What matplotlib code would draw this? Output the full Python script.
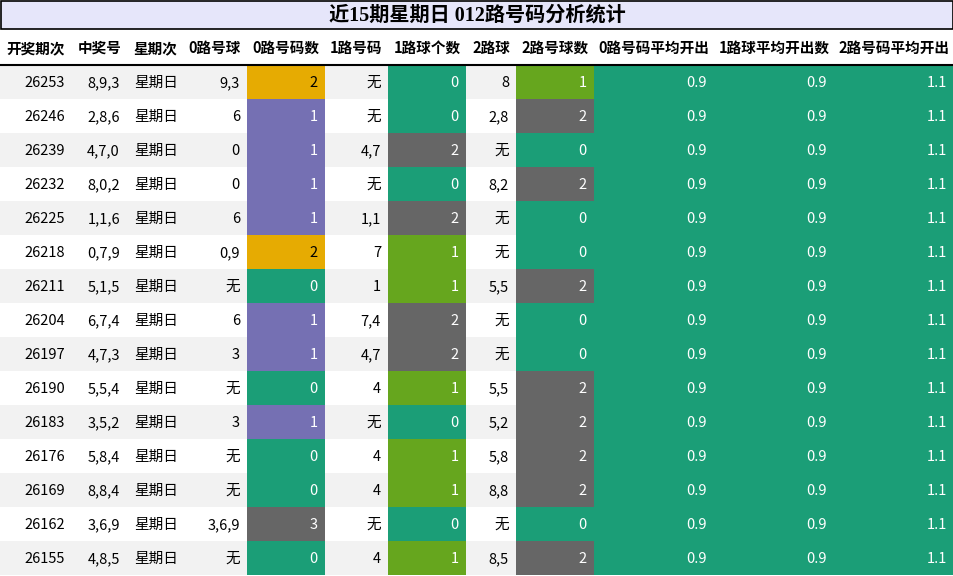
import matplotlib
matplotlib.use("Agg")
import matplotlib.pyplot as plt
from matplotlib.patches import Rectangle

plt.rcParams['font.family'] = ['Noto Sans CJK SC', 'DejaVu Sans']

title = "近15期星期日 012路号码分析统计"
headers = ["开奖期次", "中奖号", "星期次", "0路号球", "0路号码数", "1路号码", "1路球个数",
           "2路球", "2路号球数", "0路号码平均开出", "1路球平均开出数", "2路号码平均开出"]

issues = ["26253", "26246", "26239", "26232", "26225", "26218", "26211", "26204",
          "26197", "26190", "26183", "26176", "26169", "26162", "26155"]
numbers = ["8,9,3", "2,8,6", "4,7,0", "8,0,2", "1,1,6", "0,7,9", "5,1,5", "6,7,4",
           "4,7,3", "5,5,4", "3,5,2", "5,8,4", "8,8,4", "3,6,9", "4,8,5"]
weekday = ["星期日"] * 15
road0 = ["9,3", "6", "0", "0", "6", "0,9", "无", "6", "3", "无", "3", "无", "无", "3,6,9", "无"]
cnt0 = [2, 1, 1, 1, 1, 2, 0, 1, 1, 0, 1, 0, 0, 3, 0]
road1 = ["无", "无", "4,7", "无", "1,1", "7", "1", "7,4", "4,7", "4", "无", "4", "4", "无", "4"]
cnt1 = [0, 0, 2, 0, 2, 1, 1, 2, 2, 1, 0, 1, 1, 0, 1]
road2 = ["8", "2,8", "无", "8,2", "无", "无", "5,5", "无", "无", "5,5", "5,2", "5,8", "8,8", "无", "8,5"]
cnt2 = [1, 2, 0, 2, 0, 0, 2, 0, 0, 2, 2, 2, 2, 0, 2]
avg0, avg1, avg2 = "0.9", "0.9", "1.1"

GREEN, LGREEN, PURPLE, ORANGE, GRAY = "#1b9e77", "#66a61e", "#7570b3", "#e6ab02", "#666666"
cmap0 = {0: GREEN, 1: PURPLE, 2: ORANGE, 3: GRAY}
cmap12 = {0: GREEN, 1: LGREEN, 2: GRAY}

col_edges = [0, 72, 127, 183, 247, 325, 388, 466, 516, 594, 714, 834, 954]
title_h, head_bot, row_h = 29, 65, 34

fig = plt.figure(figsize=(9.54, 5.76), dpi=100)
ax = fig.add_axes([0, 0, 1, 1])
ax.set_xlim(0, 954)
ax.set_ylim(576, 0)
ax.axis("off")

# title bar
ax.add_patch(Rectangle((0.5, 0.5), 953, title_h - 1, facecolor="#e6e6fa", edgecolor="black", lw=1.2))
ax.text(477, title_h / 2 + 1, title, ha="center", va="center", fontsize=14.5, fontweight="bold",
        family=["Liberation Serif", "Noto Sans CJK SC"])

# header
for i, h in enumerate(headers):
    cx = (col_edges[i] + col_edges[i + 1]) / 2
    ax.text(cx, (title_h + head_bot) / 2 + 1, h, ha="center", va="center", fontsize=10.5, fontweight="bold")
ax.plot([0, 954], [head_bot, head_bot], color="black", lw=1.5)

for r in range(15):
    y0 = head_bot + r * row_h
    yc = y0 + row_h / 2 + 1
    bg = "#f2f2f2" if r % 2 == 0 else "white"
    ax.add_patch(Rectangle((0, y0), 954, row_h, facecolor=bg, edgecolor="none"))
    vals = [issues[r], numbers[r], weekday[r], road0[r], str(cnt0[r]), road1[r], str(cnt1[r]),
            road2[r], str(cnt2[r]), avg0, avg1, avg2]
    fills = {4: cmap0[cnt0[r]], 6: cmap12[cnt1[r]], 8: cmap12[cnt2[r]],
             9: GREEN, 10: GREEN, 11: GREEN}
    for c, v in enumerate(vals):
        x0, x1 = col_edges[c], col_edges[c + 1]
        color = "black"
        if c in fills:
            ax.add_patch(Rectangle((x0, y0), x1 - x0, row_h, facecolor=fills[c], edgecolor="none"))
            color = "black" if fills[c] == ORANGE else "white"
        if c == 2:
            ax.text(x0 + 7, yc, v, ha="left", va="center", fontsize=10.5, color=color)
        else:
            ax.text(x1 - 7, yc, v, ha="right", va="center", fontsize=10.5, color=color)

fig.savefig("out.png", dpi=100)
